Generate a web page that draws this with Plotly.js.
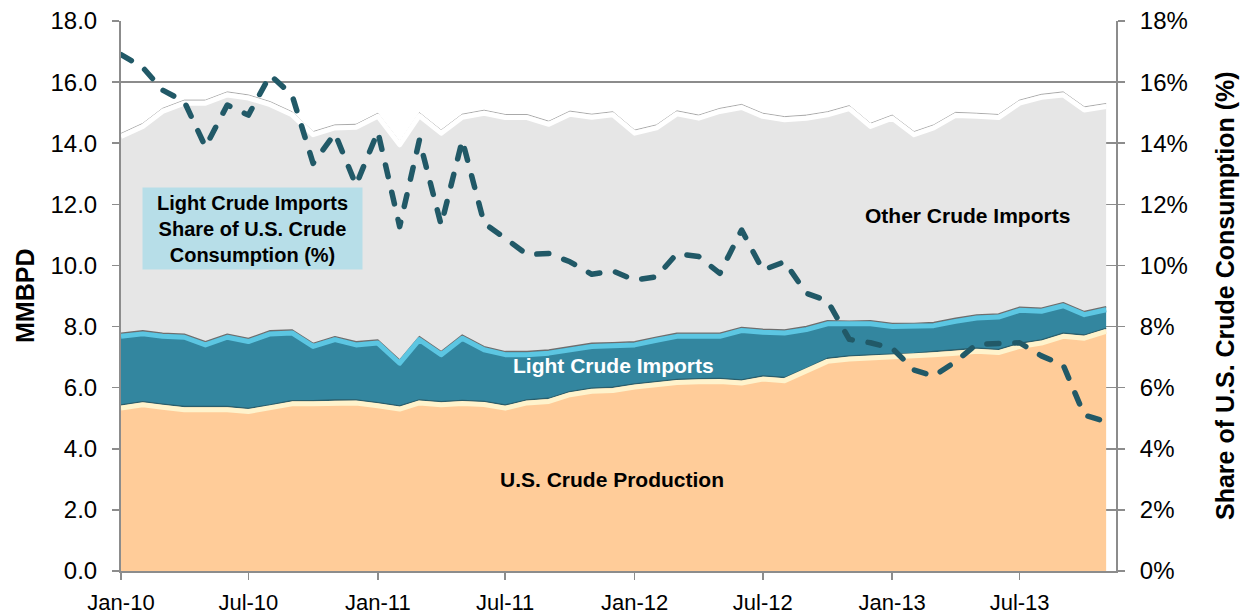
<!DOCTYPE html>
<html>
<head>
<meta charset="utf-8">
<script src="https://cdn.plot.ly/plotly-3.0.1.min.js"></script>
<style>
html,body{margin:0;padding:0;background:#fff;}
#chart{width:1247px;height:615px;}
</style>
</head>
<body>
<div id="chart"></div>
<script>
const months = ['2010-01-01','2010-02-01','2010-03-01','2010-04-01','2010-05-01','2010-06-01','2010-07-01','2010-08-01','2010-09-01','2010-10-01','2010-11-01','2010-12-01',
'2011-01-01','2011-02-01','2011-03-01','2011-04-01','2011-05-01','2011-06-01','2011-07-01','2011-08-01','2011-09-01','2011-10-01','2011-11-01','2011-12-01',
'2012-01-01','2012-02-01','2012-03-01','2012-04-01','2012-05-01','2012-06-01','2012-07-01','2012-08-01','2012-09-01','2012-10-01','2012-11-01','2012-12-01',
'2013-01-01','2013-02-01','2013-03-01','2013-04-01','2013-05-01','2013-06-01','2013-07-01','2013-08-01','2013-09-01','2013-10-01','2013-11-01'];

// MMBPD
const usProduction = [5.43,5.54,5.46,5.38,5.38,5.38,5.32,5.43,5.57,5.57,5.60,5.60,
5.51,5.40,5.60,5.54,5.58,5.55,5.43,5.60,5.65,5.87,5.98,6.01,
6.12,6.20,6.27,6.29,6.30,6.25,6.38,6.33,6.63,6.96,7.04,7.07,
7.10,7.12,7.18,7.23,7.29,7.25,7.45,7.56,7.78,7.72,7.94];
const lightImports = [2.35,2.32,2.32,2.37,2.12,2.37,2.29,2.43,2.32,1.88,2.07,1.90,
2.05,1.50,2.07,1.64,2.14,1.79,1.75,1.58,1.58,1.47,1.47,1.46,
1.38,1.45,1.51,1.49,1.48,1.72,1.53,1.56,1.37,1.23,1.13,1.12,
1.00,0.98,0.95,1.04,1.09,1.16,1.18,1.04,1.00,0.77,0.71];
const otherImports = [6.54,6.79,7.36,7.66,7.91,7.93,7.97,7.50,7.14,6.93,6.93,7.12,
7.42,7.15,7.33,7.25,7.23,7.74,7.76,7.76,7.49,7.71,7.50,7.56,
6.93,6.95,7.28,7.14,7.36,7.30,7.07,6.98,6.92,6.84,7.06,6.46,
6.82,6.28,6.47,6.74,6.60,6.53,6.78,7.00,6.90,6.70,6.65];
// % share of U.S. crude consumption
const lightShare = [16.9,16.48,15.74,15.36,13.88,15.25,14.92,16.23,15.58,13.34,14.32,12.63,
14.38,11.27,14.1,11.32,14.1,11.38,10.89,10.36,10.39,10.12,9.71,9.82,
9.52,9.63,10.39,10.29,9.74,11.16,9.85,10.12,9.09,8.84,7.58,7.47,
7.29,6.58,6.38,6.85,7.42,7.45,7.47,7.04,6.74,5.1,4.89];

const stack2 = usProduction.map((v,i)=>v+lightImports[i]);
const stack3 = stack2.map((v,i)=>v+otherImports[i]);

const traces = [
  {x:months,y:usProduction,type:'scatter',mode:'lines',fill:'tozeroy',fillcolor:'#FFCC99',line:{width:0,color:'#FFCC99'},yaxis:'y'},
  {x:months,y:stack2,type:'scatter',mode:'lines',fill:'tonexty',fillcolor:'#33869F',line:{width:0,color:'#33869F'},yaxis:'y'},
  {x:months,y:stack3,type:'scatter',mode:'lines',fill:'tonexty',fillcolor:'#E6E6E6',line:{width:0,color:'#E6E6E6'},yaxis:'y'},
  // bevel highlights (drawn on a shifted overlay axis)
  {x:months,y:usProduction,type:'scatter',mode:'lines',line:{width:5,color:'#FFF3CC'},yaxis:'y2'},
  {x:months,y:stack2,type:'scatter',mode:'lines',line:{width:5,color:'#5CC6E2'},yaxis:'y2'},
  {x:months,y:stack3,type:'scatter',mode:'lines',line:{width:5,color:'#FFFFFF'},yaxis:'y2'},
  // boundary lines
  {x:months,y:usProduction,type:'scatter',mode:'lines',line:{width:1.5,color:'#2A5E6C'},yaxis:'y'},
  {x:months,y:stack2,type:'scatter',mode:'lines',line:{width:1.5,color:'#6E6E6E'},yaxis:'y'},
  {x:months,y:stack3,type:'scatter',mode:'lines',line:{width:1,color:'#AAAAAA'},yaxis:'y'},
  // share line
  {x:months,y:lightShare,type:'scatter',mode:'lines',line:{width:5.5,color:'#215967',dash:'12px,16px'},yaxis:'y3'}
];

const axisGray = '#8C8C8C';
const tickFont = {family:'Arial, Liberation Sans, sans-serif',size:24,color:'#000'};
const xFont = {family:'Arial, Liberation Sans, sans-serif',size:22,color:'#000'};
const layout = {
  width:1247,height:615,
  margin:{l:121,r:131,t:21,b:44},
  paper_bgcolor:'#fff',plot_bgcolor:'#fff',
  showlegend:false,
  xaxis:{type:'date',range:['2010-01-01','2013-11-15'],tickformat:'%b-%y',dtick:'M6',tick0:'2010-01-01',
    ticks:'outside',ticklen:7,tickwidth:1.5,tickcolor:axisGray,showline:true,linecolor:axisGray,linewidth:2,
    showgrid:false,zeroline:false,tickfont:xFont,ticklabelstandoff:4},
  yaxis:{range:[0,18],dtick:2,tickformat:'.1f',ticks:'outside',ticklen:7,tickwidth:1.5,tickcolor:axisGray,
    showline:true,linecolor:axisGray,linewidth:2,showgrid:true,gridcolor:axisGray,gridwidth:1.5,zeroline:false,
    tickfont:tickFont,ticklabelstandoff:10},
  yaxis2:{range:[0.1,18.1],overlaying:'y',visible:false,showgrid:false,zeroline:false},
  yaxis3:{range:[0,18],dtick:2,overlaying:'y',side:'right',ticksuffix:'%',tickformat:'d',ticks:'outside',ticklen:7,
    tickwidth:1.5,tickcolor:axisGray,showline:true,linecolor:axisGray,linewidth:2,showgrid:false,zeroline:false,
    tickfont:tickFont,ticklabelstandoff:10},
  annotations:[
    {xref:'paper',yref:'paper',x:(25-121)/995,y:0.5,xanchor:'center',yanchor:'middle',text:'<b>MMBPD</b>',textangle:-90,showarrow:false,
      font:{family:'Arial',size:25,color:'#000'}},
    {xref:'paper',yref:'paper',x:(1225-121)/995,y:(571-296)/550,xanchor:'center',yanchor:'middle',text:'<b>Share of U.S. Crude Consumption (%)</b>',textangle:-90,showarrow:false,
      font:{family:'Arial',size:25,color:'#000'}},
    {xref:'paper',yref:'paper',x:(967-121)/995,y:(571-215)/550,xanchor:'center',yanchor:'middle',text:'<b>Other Crude Imports</b>',showarrow:false,
      font:{family:'Arial',size:21,color:'#000'}},
    {xref:'paper',yref:'paper',x:(613-121)/995,y:(571-365)/550,xanchor:'center',yanchor:'middle',text:'<b>Light Crude Imports</b>',showarrow:false,
      font:{family:'Arial',size:21,color:'#fff'}},
    {xref:'paper',yref:'paper',x:(612-121)/995,y:(571-479)/550,xanchor:'center',yanchor:'middle',text:'<b>U.S. Crude Production</b>',showarrow:false,
      font:{family:'Arial',size:21,color:'#000'}},
    {xref:'paper',yref:'paper',x:(252.5-121)/995,y:(571-228.5)/550,xanchor:'center',yanchor:'middle',
      text:'<b>Light Crude Imports<br>Share of U.S. Crude<br>Consumption (%)</b>',showarrow:false,
      bgcolor:'#B7DEE8',width:215,height:77,borderpad:2,
      font:{family:'Arial',size:20,color:'#000'}}
  ]
};

Plotly.newPlot('chart',traces,layout,{displayModeBar:false,staticPlot:true}).then(()=>{
  document.querySelectorAll('path.js-line').forEach(p=>{
    p.style.strokeLinejoin='round';
    if(p.style.strokeDasharray && p.style.strokeDasharray!=='none'){
      p.style.strokeLinecap='round';
    }
  });
});
</script>
</body>
</html>
